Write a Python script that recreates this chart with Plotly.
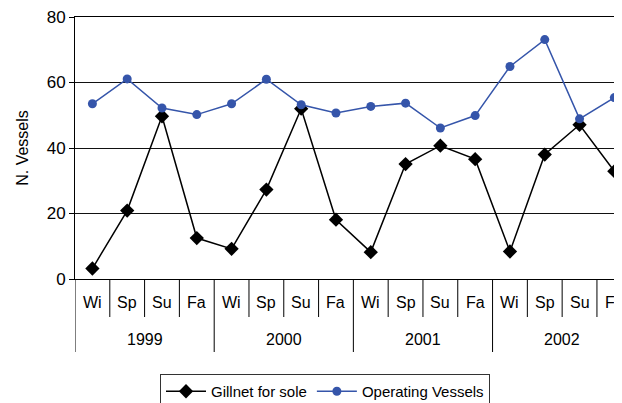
import plotly.graph_objects as go

years = ["1999", "2000", "2001", "2002"]
seasons = ["Wi", "Sp", "Su", "Fa"]

gillnet = [3.2, 20.9, 49.7, 12.5,
           9.2, 27.3, 52.0, 18.1,
           8.2, 35.1, 40.7, 36.6,
           8.4, 38.0, 47.1, 32.9]
operating = [53.5, 61.1, 52.2, 50.2,
             53.5, 61.0, 53.2, 50.7,
             52.7, 53.7, 46.1, 49.9,
             64.9, 73.1, 48.9, 55.4]

x_year = [y for y in years for s in seasons]
x_season = [s for y in years for s in seasons]
n = len(x_season)
ns = len(seasons)

# page body has an 8px margin, so the figure is sized to the visible area
W, H = 614, 395

fig = go.Figure()
fig.add_trace(go.Scatter(
    x=[x_year, x_season], y=gillnet, name="Gillnet for sole",
    mode="lines+markers", cliponaxis=False,
    line=dict(color="black", width=1.5),
    marker=dict(symbol="diamond", size=11, color="black"),
))
fig.add_trace(go.Scatter(
    x=[x_year, x_season], y=operating, name="Operating Vessels",
    mode="lines+markers", cliponaxis=False,
    line=dict(color="#3555AA", width=1.5),
    marker=dict(symbol="circle", size=9, color="#3555AA"),
))

# category labels and separators drawn under the axis
plot_h = 262
for i in range(n):
    b = i - 0.5
    long_line = (i % ns == 0)
    fig.add_shape(type="line", xref="x", yref="paper",
                  x0=b, x1=b, y0=0,
                  y1=-(73 if long_line else 38) / plot_h,
                  line=dict(color="black", width=1))
    fig.add_annotation(x=i, y=-23 / plot_h, xref="x", yref="paper",
                       yanchor="middle", text=x_season[i], showarrow=False,
                       font=dict(size=16, color="black"))
for j, yr in enumerate(years):
    fig.add_annotation(x=j * ns + (ns - 1) / 2, y=-61 / plot_h, xref="x", yref="paper",
                       yanchor="middle", text=yr, showarrow=False,
                       font=dict(size=16, color="black"))

fig.update_xaxes(
    type="multicategory", range=[-0.5, 15.22], automargin=False,
    showline=True, linecolor="black", linewidth=1, mirror=True,
    showdividers=False, ticks="", showgrid=False, showticklabels=False,
)
fig.update_yaxes(
    range=[0, 80], dtick=20, automargin=False, ticklabeloverflow="allow",
    showline=True, linecolor="black", linewidth=1,
    ticks="outside", ticklen=5, tickcolor="black",
    showgrid=True, gridcolor="#111", gridwidth=1, zeroline=False,
    tickfont=dict(size=17, color="black"),
    title=dict(text="N. Vessels", font=dict(size=16, color="black"), standoff=14),
)
fig.update_layout(
    width=W, height=H,
    margin=dict(l=67, r=0, t=9, b=124),
    plot_bgcolor="white", paper_bgcolor="white",
    font=dict(family="Arial, Liberation Sans, sans-serif", color="black"),
    legend=dict(orientation="h", xref="container", x=317 / W, xanchor="center",
                yref="container", y=1 - 366 / H, yanchor="top",
                bordercolor="#333", borderwidth=1, font=dict(size=15),
                itemwidth=40, tracegroupgap=0),
    showlegend=True,
)

fig.write_html("out.html")
